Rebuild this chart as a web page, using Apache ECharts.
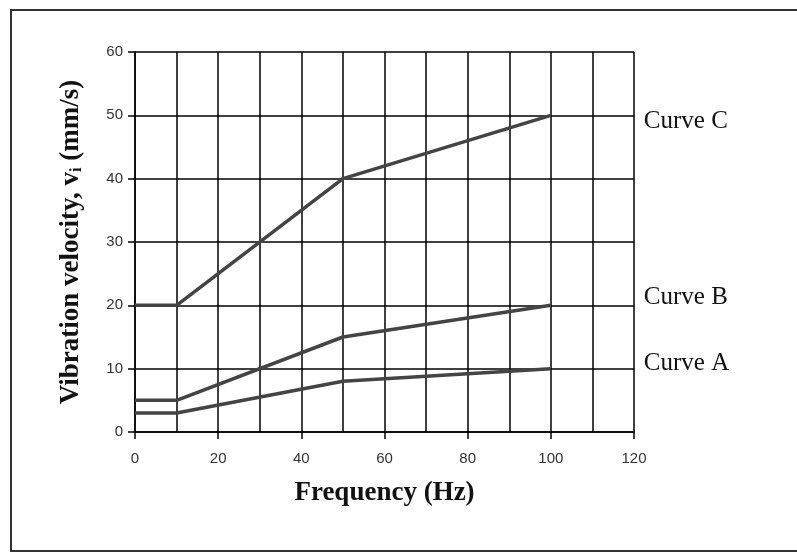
<!DOCTYPE html>
<html>
<head>
<meta charset="utf-8">
<script src="https://cdn.jsdelivr.net/npm/echarts@6/dist/echarts.min.js"></script>
<style>
	html, body { margin: 0; padding: 0; background: #fff; }
	#main { width: 797px; height: 554px; }
</style>
</head>
<body>
<div id="main"></div>
<script>
// frequency breakpoints (Hz)
const freqs = [0, 10, 50, 100];
const curveA = [3, 3, 8, 10];
const curveB = [5, 5, 15, 20];
const curveC = [20, 20, 40, 50];
const curveNames = ["Curve A", "Curve B", "Curve C"];

const chart = echarts.init(document.getElementById("main"));

const lineColor = "#444";
const makeSeries = (name, values, offsetY) => ({
	name: name,
	type: "line",
	data: freqs.map((f, i) => [f, values[i]]),
	symbol: "none",
	lineStyle: { color: lineColor, width: 3.5 },
	endLabel: {
		show: true,
		formatter: name,
		offset: [85, offsetY],
		fontFamily: "Liberation Serif",
		fontSize: 25,
		color: "#111",
	},
	z: 3,
});

const option = {
	animation: false,
	backgroundColor: "#fff",
	graphic: [
		{
			type: "rect",
			shape: { x: 11, y: 10, width: 790, height: 541 },
			style: { fill: "none", stroke: "#333", lineWidth: 2 },
		},
	],
	grid: {
		left: 135,
		right: 163,
		top: 52,
		bottom: 122,
	},
	xAxis: {
		type: "value",
		min: 0,
		max: 120,
		interval: 20,
		name: "Frequency (Hz)",
		nameLocation: "middle",
		nameGap: 48,
		nameTextStyle: {
			fontFamily: "Liberation Serif",
			fontWeight: "bold",
			fontSize: 27,
			color: "#111",
		},
		axisLine: { show: true, lineStyle: { color: "#000", width: 1.5 } },
		axisTick: { show: true, inside: false, length: 7, lineStyle: { color: "#000", width: 1.5 } },
		axisLabel: { margin: 19, fontFamily: "Liberation Sans", fontSize: 15, color: "#333" },
		splitLine: { show: true, lineStyle: { color: "#000", width: 1.5 } },
		minorTick: { show: false, splitNumber: 2 },
		minorSplitLine: { show: true, lineStyle: { color: "#000", width: 1.5 } },
	},
	yAxis: {
		type: "value",
		min: 0,
		max: 60,
		interval: 10,
		name: "Vibration velocity, v{sub|i} (mm/s)",
		nameLocation: "middle",
		nameGap: 50,
		nameTextStyle: {
			fontFamily: "Liberation Serif",
			fontWeight: "bold",
			fontSize: 27,
			color: "#111",
			rich: {
				sub: {
					fontFamily: "Liberation Serif",
					fontWeight: "bold",
					fontSize: 16,
					color: "#111",
					verticalAlign: "bottom",
					padding: [12, 0, 0, 0],
				},
			},
		},
		axisLine: { show: true, lineStyle: { color: "#000", width: 1.5 } },
		axisTick: { show: true, length: 7, lineStyle: { color: "#000", width: 1.5 } },
		axisLabel: { margin: 12, fontFamily: "Liberation Sans", fontSize: 15, color: "#333" },
		splitLine: { show: true, lineStyle: { color: "#000", width: 1.5 } },
	},
	series: [
		makeSeries(curveNames[0], curveA, -5),
		makeSeries(curveNames[1], curveB, -8),
		makeSeries(curveNames[2], curveC, 6),
	],
};

chart.setOption(option);
</script>
</body>
</html>
